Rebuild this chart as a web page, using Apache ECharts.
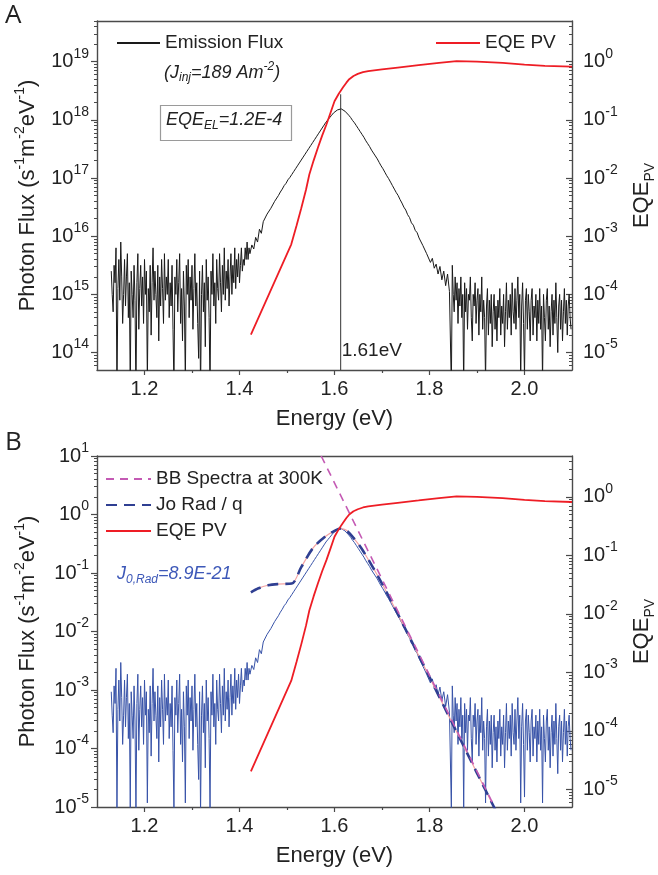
<!DOCTYPE html>
<html><head><meta charset="utf-8">
<script src="https://cdn.jsdelivr.net/npm/echarts@6/dist/echarts.min.js"></script>
<style>html,body{margin:0;padding:0;background:#fff}#c{width:658px;height:875px}</style>
</head><body><div id="c"></div>
<script>
// ---------- DATA ----------
// Emission flux (panel A), log10 of photon flux, in three measured segments
// low-energy noise floor: 1.130 .. 1.420 eV, step 0.002
const lowNoiseStart = 1.130, lowNoiseStep = 0.002;
const lowNoiseLog10 = [
 15.4,15.0,14.7,15.5,15.2,15.8,13.3,15.1,15.6,14.9,
 15.9,15.3,14.5,15.0,15.6,14.8,15.3,15.7,14.6,15.2,
 13.4,15.4,15.0,14.6,15.5,14.9,13.3,15.2,15.7,14.4,
 15.1,15.5,14.8,15.3,14.5,15.6,15.0,15.4,13.5,15.1,
 14.7,15.5,14.3,15.2,15.8,14.9,15.4,15.0,14.6,15.5,
 14.2,15.3,14.8,15.6,15.1,14.5,15.7,14.9,15.3,15.0,
 15.6,14.6,15.2,14.8,15.5,14.4,13.4,15.3,15.0,15.6,
 14.7,15.2,15.7,14.5,15.1,14.2,15.4,14.8,13.5,15.5,
 15.0,15.6,14.6,15.3,14.9,15.5,14.4,15.1,15.7,14.8,
 15.2,14.5,13.9,15.4,13.3,15.0,15.5,14.7,15.2,14.1,
 15.6,14.9,15.3,14.6,13.4,15.4,15.0,15.7,14.8,15.2,
 14.5,15.6,15.1,14.9,15.7,15.2,14.7,15.5,15.0,15.8,
 14.9,15.4,15.1,15.6,14.8,15.3,15.7,15.0,15.5,15.2,
 15.8,15.1,15.6,15.3,15.7,15.2,15.5,15.8,15.4,15.6,
 15.5,15.8,15.6,15.9,15.6,15.8
];
// emission band: 1.422 .. 1.842 eV, step 0.004
const bandStart = 1.422, bandStep = 0.004;
const bandLog10 = [
 15.70,15.85,15.78,15.98,15.90,16.12,16.05,16.25,16.22,16.38,
 16.36,16.48,16.50,16.60,16.63,16.70,16.76,16.81,16.87,16.91,
 16.97,17.01,17.06,17.11,17.16,17.21,17.26,17.31,17.36,17.41,
 17.46,17.51,17.56,17.61,17.66,17.71,17.76,17.81,17.86,17.91,
 17.96,18.00,18.04,18.08,18.12,18.15,18.17,18.19,18.19,
 18.17,18.15,18.12,18.08,18.04,17.99,17.95,17.90,17.85,17.80,
 17.75,17.70,17.64,17.59,17.54,17.48,17.43,17.38,17.33,17.27,
 17.21,17.16,17.10,17.04,16.99,16.93,16.87,16.81,16.75,16.70,
 16.63,16.57,16.50,16.45,16.37,16.32,16.23,16.19,16.10,16.06,
 15.97,15.95,15.84,15.82,15.70,15.72,15.55,15.62,15.45,15.52,
 15.35,15.48,15.25,15.40,15.15,15.35,15.05
];
// high-energy noise floor: 1.846 .. 2.098 eV, step 0.002
const highNoiseStart = 1.846, highNoiseStep = 0.002;
const highNoiseLog10 = [
 13.4,15.5,15.0,14.7,15.3,14.9,15.2,14.5,15.1,14.8,
 15.3,14.6,15.0,13.4,15.2,14.7,15.1,14.4,15.0,14.9,
 15.3,14.6,14.2,15.0,14.8,15.2,14.5,14.9,15.1,14.3,
 15.0,14.7,15.3,14.4,14.9,14.6,13.5,14.8,15.1,14.3,
 14.9,14.5,15.0,14.1,14.7,15.0,14.4,14.8,14.2,14.9,
 14.6,15.1,14.3,14.8,14.5,15.0,14.1,14.7,15.2,14.4,
 14.9,14.6,15.0,14.3,15.2,14.7,14.5,15.1,14.4,14.9,
 15.3,14.6,15.0,13.5,14.8,15.2,14.5,13.6,14.9,15.1,
 14.4,15.0,14.7,14.2,14.9,15.1,14.3,14.8,14.6,15.0,
 14.2,14.9,14.5,15.1,14.4,14.8,13.5,15.0,14.6,14.2,
 14.9,15.1,14.4,14.8,14.1,14.7,15.0,14.3,14.9,14.5,
 15.2,14.6,14.0,14.8,15.0,14.4,14.9,14.2,14.7,15.1,
 14.5,14.9,14.3,14.8,15.0,14.6,14.4
];
// Panel B shows the same emission rescaled (log10 offset read from the peak: 1.55e18 -> 0.58)
const panelBLogOffset = -18.43;

// EQE PV (log10)
const eqeEnergy = [1.424,1.509,1.520,1.530,1.540,1.547,1.556,1.565,1.574,1.583,1.592,1.600,1.609,1.618,1.625,1.631,1.640,1.649,1.660,1.671,1.700,1.733,1.777,1.820,1.857,1.900,1.954,2.000,2.043,2.100];
const eqeLog10  = [-4.69,-3.14,-2.82,-2.52,-2.20,-1.94,-1.70,-1.48,-1.27,-1.08,-0.87,-0.68,-0.55,-0.44,-0.36,-0.30,-0.245,-0.21,-0.18,-0.16,-0.13,-0.10,-0.06,-0.02,0.01,0.00,-0.02,-0.05,-0.07,-0.086];

// Jo Rad / q (log10)
const joRadEnergy = [1.424,1.44,1.46,1.48,1.51,1.53,1.555,1.58,1.60,1.613,1.625,1.64,1.66,1.70,1.75,1.80,1.85,1.90,1.94];
const joRadLog10  = [-1.33,-1.26,-1.21,-1.19,-1.18,-0.90,-0.57,-0.38,-0.28,-0.24,-0.27,-0.40,-0.62,-1.18,-1.97,-2.78,-3.60,-4.42,-5.07];

// Black-body spectrum at 300 K (log10)
const bbEnergy = [1.572, 1.937];
const bbLog10  = [1.0, -5.0];

// Peak marker
const peakEnergy = 1.613;
const peakLineLog10 = [13.7, 18.44];
const peakLabel = '1.61eV';

// Axis ticks
const xTicks = [1.2, 1.4, 1.6, 1.8, 2.0];
const xMinorTicks = [1.3, 1.5, 1.7, 1.9];
const leftExpA = [14, 15, 16, 17, 18, 19];
const leftExpB = [-5, -4, -3, -2, -1, 0, 1];
const rightExp = [-5, -4, -3, -2, -1, 0];

// ---------- CHART ----------
const FONT = 'Liberation Sans, Arial, sans-serif';
const TXT = '#222';
const AX = '#4a4a4a';

function minorLog(min, max) {
  const out = [];
  for (let d = Math.floor(min); d <= Math.ceil(max); d++) {
    for (let m = 2; m <= 9; m++) {
      const v = d + Math.log10(m);
      if (v > min && v < max) out.push(v);
    }
  }
  return out;
}
const expFmt = v => '{b|10}{s|' + Math.round(v) + '}';
const expRich = {
  b: { fontSize: 20, lineHeight: 30, verticalAlign: 'middle', fontFamily: FONT, color: TXT },
  s: { fontSize: 14, lineHeight: 16, verticalAlign: 'top', fontFamily: FONT, color: TXT }
};

function xAxesFor(g) {
  return [
    { gridIndex: g, type: 'value', min: 1.1, max: 2.1, position: 'bottom',
      axisLine: { show: true, onZero: false, lineStyle: { color: AX, width: 1.4 } },
      axisTick: { show: true, customValues: xTicks, length: 5, inside: false, lineStyle: { color: AX, width: 1.2 } },
      axisLabel: { customValues: xTicks, formatter: v => v.toFixed(1), fontSize: 20, fontFamily: FONT, color: TXT, margin: 9 },
      splitLine: { show: false },
      name: 'Energy (eV)', nameLocation: 'middle', nameGap: 38, nameMoveOverlap: false,
      nameTextStyle: { fontSize: 22, fontFamily: FONT, color: TXT } },
    { gridIndex: g, type: 'value', min: 1.1, max: 2.1, position: 'bottom', offset: 0,
      axisLine: { show: false, onZero: false },
      axisTick: { show: true, customValues: xMinorTicks, length: 3, lineStyle: { color: AX, width: 1.2 } },
      axisLabel: { show: false }, splitLine: { show: false } },
    { gridIndex: g, type: 'value', min: 1.1, max: 2.1, position: 'top',
      axisLine: { show: true, onZero: false, lineStyle: { color: AX, width: 1.4 } },
      axisTick: { show: false }, axisLabel: { show: false }, splitLine: { show: false } }
  ];
}

function yAxesFor(g, lmin, lmax, lticks, rmin, rmax, rticks) {
  return [
    { gridIndex: g, type: 'value', min: lmin, max: lmax, position: 'left',
      axisLine: { show: true, onZero: false, lineStyle: { color: AX, width: 1.4 } },
      axisTick: { show: true, customValues: lticks, length: 6, inside: false, lineStyle: { color: AX, width: 1.2 } },
      axisLabel: { customValues: lticks, formatter: expFmt, rich: expRich, margin: 8 },
      splitLine: { show: false },
      name: '{n|Photon Flux (s}{sup|-1}{n|m}{sup|-2}{n|eV}{sup|-1}{n|)}',
      nameLocation: 'middle', nameRotate: 90, nameGap: 54, nameMoveOverlap: false,
      nameTextStyle: { fontSize: 22, fontFamily: FONT, color: TXT,
        rich: { n: { fontSize: 22, lineHeight: 30, verticalAlign: 'middle', fontFamily: FONT, color: TXT },
                sup: { fontSize: 14, lineHeight: 16, verticalAlign: 'top', fontFamily: FONT, color: TXT } } } },
    { gridIndex: g, type: 'value', min: lmin, max: lmax, position: 'left', offset: 0,
      axisLine: { show: false, onZero: false },
      axisTick: { show: true, customValues: minorLog(lmin, lmax), length: 3, inside: false, lineStyle: { color: AX, width: 1 } },
      axisLabel: { show: false }, splitLine: { show: false } },
    { gridIndex: g, type: 'value', min: rmin, max: rmax, position: 'right',
      axisLine: { show: true, onZero: false, lineStyle: { color: AX, width: 1.4 } },
      axisTick: { show: true, customValues: rticks, length: 6, inside: true, lineStyle: { color: AX, width: 1.2 } },
      axisLabel: { customValues: rticks, formatter: expFmt, rich: expRich, margin: 11 },
      splitLine: { show: false },
      name: '{n|EQE}{sub|PV}', nameLocation: 'middle', nameRotate: 90, nameGap: 55, nameMoveOverlap: false,
      nameTextStyle: { fontSize: 22, fontFamily: FONT, color: TXT,
        rich: { n: { fontSize: 22, lineHeight: 30, verticalAlign: 'middle', fontFamily: FONT, color: TXT },
                sub: { fontSize: 14, lineHeight: 16, verticalAlign: 'bottom', fontFamily: FONT, color: TXT } } } },
    { gridIndex: g, type: 'value', min: rmin, max: rmax, position: 'right', offset: 0,
      axisLine: { show: false, onZero: false },
      axisTick: { show: true, customValues: minorLog(rmin, rmax), length: 3, inside: true, lineStyle: { color: AX, width: 1 } },
      axisLabel: { show: false }, splitLine: { show: false } }
  ];
}

const seg = (start, step, vals) => vals.map((v, i) => [+(start + i * step).toFixed(3), v]);
const emissionA = [
  ...seg(lowNoiseStart, lowNoiseStep, lowNoiseLog10),
  ...seg(bandStart, bandStep, bandLog10),
  ...seg(highNoiseStart, highNoiseStep, highNoiseLog10)
];
const emissionB = emissionA.map(p => [p[0], +(p[1] + panelBLogOffset).toFixed(3)]);
const pairs = (xs, ys) => xs.map((x, i) => [x, ys[i]]);
const eqePairs = pairs(eqeEnergy, eqeLog10);

const RED = '#ee1d25';
const BLUE = '#3853a8';
const NAVY = '#2f3f92';
const PINK = '#f3a2a2';
const MAG = '#c45ab4';

const italicRich = (color) => ({
  i: { fontSize: 18, fontStyle: 'italic', fontFamily: FONT, fill: color },
  sub: { fontSize: 12, fontStyle: 'italic', fontFamily: FONT, fill: color, padding: [11, 0, 0, 0] },
  sup: { fontSize: 12, fontStyle: 'italic', fontFamily: FONT, fill: color, padding: [0, 0, 11, 0] }
});
const legendText = { fontSize: 19, fontFamily: FONT, color: TXT, lineHeight: 24 };

const option = {
  animation: false,
  backgroundColor: '#fff',
  grid: [
    { left: 97, top: 21, width: 475, height: 349, containLabel: false, outerBoundsMode: 'none' },
    { left: 97, top: 456, width: 475, height: 351, containLabel: false, outerBoundsMode: 'none' }
  ],
  xAxis: [...xAxesFor(0), ...xAxesFor(1)],
  yAxis: [
    ...yAxesFor(0, 13.7, 19.7, leftExpA, -5.3, 0.7, rightExp),
    ...yAxesFor(1, -5, 1, leftExpB, -5.3, 0.7, rightExp)
  ],
  legend: [
    { data: ['Emission Flux'], left: 116, top: 31, padding: 0, itemWidth: 43, itemHeight: 14,
      itemStyle: { opacity: 0 }, textStyle: legendText },
    { data: ['EQE PV'], left: 435, top: 31, padding: 0, itemWidth: 44, itemHeight: 14,
      itemStyle: { opacity: 0 }, textStyle: legendText },
    { data: ['BB Spectra at 300K', 'Jo Rad / q', 'EQE PV'], left: 105, top: 467, orient: 'vertical', padding: 0,
      itemWidth: 45, itemHeight: 14, itemGap: 2, itemStyle: { opacity: 0 }, textStyle: legendText }
  ],
  graphic: [
    { type: 'text', left: 5, top: 3, style: { text: 'A', fontSize: 26, fontFamily: 'Open Sans', fill: TXT } },
    { type: 'text', left: 5, top: 430, style: { text: 'B', fontSize: 26, fontFamily: 'Open Sans', fill: TXT } },
    { type: 'text', left: 164, top: 61, style: { text: '{i|(J}{sub|inj}{i|=189 Am}{sup|-2}{i|)}', rich: italicRich(TXT) } },
    { type: 'rect', left: 158, top: 103, shape: { width: 131, height: 35 }, style: { fill: 'none', stroke: '#9a9a9a', lineWidth: 1.2 } },
    { type: 'text', left: 166, top: 111, style: { text: '{i|EQE}{sub|EL}{i|=1.2E-4}', rich: italicRich(TXT) } },
    { type: 'text', left: 117, top: 565, style: { text: '{i|J}{sub|0,Rad}{i|=8.9E-21}', rich: italicRich('#3d58b8') } }
  ],
  series: [
    // Panel A
    { name: 'Emission Flux', type: 'line', xAxisIndex: 0, yAxisIndex: 0, data: emissionA,
      symbol: 'none', lineStyle: { color: '#1a1a1a', width: 1 }, itemStyle: { color: '#1a1a1a' }, clip: true, silent: true },
    { name: 'peak', type: 'line', xAxisIndex: 0, yAxisIndex: 0,
      data: [
        { value: [peakEnergy, peakLineLog10[0]], label: { show: true, formatter: peakLabel, position: 'right', distance: 1, offset: [0, -19], fontSize: 19, fontFamily: FONT, color: TXT } },
        [peakEnergy, peakLineLog10[1]]
      ],
      symbol: 'circle', symbolSize: 0, lineStyle: { color: '#333', width: 1 }, itemStyle: { color: '#333' }, clip: true, silent: true },
    { name: 'EQE PV', type: 'line', xAxisIndex: 0, yAxisIndex: 2, data: eqePairs,
      symbol: 'none', lineStyle: { color: RED, width: 1.8 }, itemStyle: { color: RED }, clip: true, silent: true },
    // Panel B
    { name: 'Emission (scaled)', type: 'line', xAxisIndex: 3, yAxisIndex: 4, data: emissionB,
      symbol: 'none', lineStyle: { color: BLUE, width: 1 }, itemStyle: { color: BLUE }, clip: true, silent: true },
    { name: 'Jo Rad under', type: 'line', xAxisIndex: 3, yAxisIndex: 4, data: pairs(joRadEnergy, joRadLog10), smooth: 0.3,
      symbol: 'none', lineStyle: { color: PINK, width: 1.2 }, itemStyle: { color: PINK }, clip: true, silent: true },
    { name: 'Jo Rad / q', type: 'line', xAxisIndex: 3, yAxisIndex: 4, data: pairs(joRadEnergy, joRadLog10), smooth: 0.3,
      symbol: 'none', lineStyle: { color: NAVY, width: 2.6, type: [11, 7] }, itemStyle: { color: NAVY }, clip: true, silent: true },
    { name: 'BB Spectra at 300K', type: 'line', xAxisIndex: 3, yAxisIndex: 4, data: pairs(bbEnergy, bbLog10),
      symbol: 'none', lineStyle: { color: MAG, width: 1.6, type: [8, 6] }, itemStyle: { color: MAG }, clip: true, silent: true },
    { name: 'EQE PV', type: 'line', xAxisIndex: 3, yAxisIndex: 6, data: eqePairs,
      symbol: 'none', lineStyle: { color: RED, width: 1.8 }, itemStyle: { color: RED }, clip: true, silent: true }
  ]
};

const chart = echarts.init(document.getElementById('c'), null, { renderer: 'canvas' });
chart.setOption(option);
</script>
</body></html>
